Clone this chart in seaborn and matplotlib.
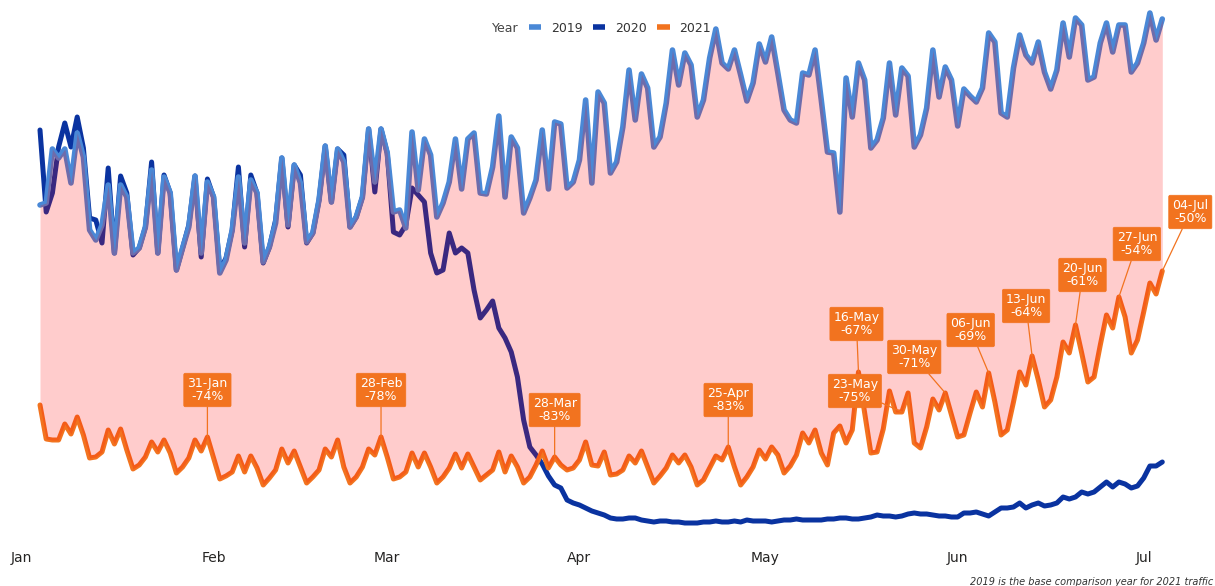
import numpy as np
import pandas as pd
import matplotlib
matplotlib.use("Agg")
import matplotlib.pyplot as plt
import matplotlib.dates as mdates
from matplotlib.lines import Line2D
import seaborn as sns

# daily traffic, aligned on 2021 weekdays (04-Jan .. 04-Jul)
START = "2021-01-04"
N_DAYS = 182

traffic_2019 = [
    320, 322, 376, 367, 376, 342, 392, 368, 295, 285, 300, 340, 272, 340,
    328, 272, 277, 298, 355, 272, 348, 332, 255, 277, 298, 349, 272, 343,
    328, 252, 265, 295, 348, 282, 345, 332, 263, 278, 302, 367, 300, 360,
    342, 283, 292, 325, 379, 323, 376, 363, 298, 308, 328, 396, 343, 396,
    372, 313, 315, 297, 393, 335, 386, 370, 308, 322, 343, 386, 336, 386,
    392, 332, 331, 358, 409, 328, 388, 377, 312, 327, 345, 395, 336, 403,
    401, 337, 343, 365, 425, 342, 433, 422, 352, 363, 398, 455, 405, 451,
    437, 378, 388, 422, 475, 440, 472, 460, 408, 425, 467, 496, 462, 456,
    475, 450, 424, 442, 481, 463, 488, 452, 415, 405, 402, 452, 450, 475,
    425, 373, 372, 313, 447, 408, 462, 445, 377, 385, 407, 462, 410, 457,
    449, 378, 390, 417, 475, 428, 458, 445, 399, 436, 429, 423, 437, 492,
    483, 412, 408, 457, 490, 470, 462, 483, 453, 436, 455, 502, 468, 507,
    500, 445, 448, 482, 502, 473, 500, 500, 453, 462, 482, 512, 485, 506,
]

traffic_2020 = [
    395, 313, 332, 378, 402, 378, 408, 377, 307, 305, 282, 357, 272, 349,
    332, 270, 277, 298, 363, 272, 350, 332, 255, 277, 300, 349, 268, 346,
    328, 255, 267, 295, 358, 278, 350, 332, 262, 278, 305, 367, 298, 360,
    350, 282, 292, 325, 379, 323, 376, 370, 298, 308, 328, 396, 333, 396,
    372, 293, 290, 300, 337, 330, 323, 272, 252, 255, 292, 272, 277, 272,
    235, 207, 215, 224, 197, 187, 173, 148, 105, 78, 70, 61, 49, 40,
    37, 25, 22, 20, 17, 14, 12, 10, 7, 6, 6, 7, 7, 5,
    4, 3, 4, 4, 3, 3, 2, 2, 2, 3, 3, 4, 3, 3,
    4, 3, 5, 4, 4, 4, 3, 4, 5, 5, 6, 5, 5, 5,
    5, 6, 6, 7, 7, 6, 6, 7, 8, 10, 9, 9, 8, 9,
    11, 12, 11, 11, 10, 9, 9, 8, 8, 12, 12, 13, 11, 9,
    13, 17, 17, 18, 22, 17, 20, 22, 19, 20, 22, 28, 26, 28,
    33, 31, 33, 38, 43, 38, 43, 41, 37, 39, 47, 59, 59, 63,
]

traffic_2021 = [
    120, 86, 85, 85, 101, 91, 108, 90, 67, 68, 73, 95, 81, 96,
    75, 56, 60, 68, 83, 73, 85, 72, 52, 58, 67, 85, 74, 88,
    67, 46, 49, 53, 69, 53, 69, 57, 40, 47, 55, 76, 62, 74,
    58, 42, 48, 55, 76, 68, 85, 58, 42, 48, 58, 76, 70, 88,
    68, 46, 48, 53, 72, 58, 72, 58, 42, 48, 57, 71, 57, 71,
    58, 45, 50, 55, 73, 53, 69, 58, 42, 48, 60, 74, 57, 68,
    60, 55, 57, 65, 83, 60, 59, 73, 50, 51, 55, 69, 62, 74,
    58, 42, 49, 57, 70, 62, 70, 58, 40, 45, 57, 69, 65, 78,
    58, 40, 48, 58, 75, 66, 78, 70, 52, 59, 70, 92, 82, 95,
    72, 60, 92, 99, 82, 95, 153, 112, 72, 73, 96, 134, 113, 113,
    132, 82, 77, 98, 126, 115, 132, 110, 88, 90, 112, 133, 118, 152,
    123, 90, 95, 123, 153, 140, 169, 145, 118, 125, 148, 183, 172, 200,
    172, 143, 148, 180, 210, 197, 228, 208, 172, 185, 213, 242, 231, 254,
]

years = ["2019", "2020", "2021"]
year_colors = {"2019": "#4A88D6", "2020": "#0A33A0", "2021": "#F2731F"}

# weekly callouts on the 2021 line
callout_days = ["31-Jan", "28-Feb", "28-Mar", "25-Apr", "16-May", "23-May",
                "30-May", "06-Jun", "13-Jun", "20-Jun", "27-Jun", "04-Jul"]
callout_pcts = ["-74%", "-78%", "-83%", "-83%", "-67%", "-75%",
                "-71%", "-69%", "-64%", "-61%", "-54%", "-50%"]
callout_offsets = [(0, 47), (0, 47), (0, 47), (0, 47), (-2, 48), (-47, 21),
                   (-31, 36), (-18, 43), (-6, 50), (7, 50), (18, 53), (28, 59)]

dates = pd.date_range(START, periods=N_DAYS, freq="D")
df = pd.concat([
    pd.DataFrame({"Date": dates, "Traffic": vals, "Year": yr})
    for yr, vals in zip(years, [traffic_2019, traffic_2020, traffic_2021])
], ignore_index=True)

sns.set_theme(style="white")
plt.rcParams["font.family"] = ["DejaVu Sans"]

W, H = 1215, 586
fig = plt.figure(figsize=(W / 100, H / 100), dpi=100)
ax = fig.add_axes([0, 46 / H, 1, 540 / H])

# draw order: 2020 under, 2021, then 2019 on top
widths = {"2019": 4.0, "2020": 3.6, "2021": 3.6}
for yr in ["2020", "2021", "2019"]:
    sns.lineplot(data=df[df["Year"] == yr], x="Date", y="Traffic",
                 color=year_colors[yr], linewidth=widths[yr], ax=ax,
                 legend=False, zorder=2)

# gap between base year and 2021, drawn over the lines
ax.fill_between(dates, traffic_2021, traffic_2019, color="red", alpha=0.2,
                linewidth=0, zorder=3)

s21 = pd.Series(traffic_2021, index=dates)
for day, pct, (dx, dy) in zip(callout_days, callout_pcts, callout_offsets):
    d = pd.to_datetime(day + "-2021", format="%d-%b-%Y")
    ax.annotate(f"{day}\n{pct}", xy=(d, s21[d]), xytext=(dx, dy),
                textcoords="offset pixels", ha="center", va="center",
                fontsize=9, color="white", linespacing=1.05, zorder=6,
                bbox=dict(boxstyle="round,pad=0.28,rounding_size=0.12",
                          fc="#F2731F", ec="#F2731F", lw=0.5),
                arrowprops=dict(arrowstyle="-", color="#F2731F", lw=0.9,
                                shrinkA=0, shrinkB=0))

start = pd.Timestamp(START)
ax.set_xlim(start - pd.Timedelta(days=6.45), start + pd.Timedelta(days=189.5))
ax.set_ylim(-15, 525)
ax.xaxis.set_major_locator(mdates.MonthLocator())
ax.xaxis.set_major_formatter(mdates.DateFormatter("%b"))
ax.tick_params(axis="x", length=3, width=0.8, color="#AAAAAA", pad=5,
               labelsize=10, labelcolor="#252423")
ax.set_yticks([])
ax.set_xlabel("")
ax.set_ylabel("")
for sp in ax.spines.values():
    sp.set_visible(False)
ax.patch.set_alpha(0)

# legend across the top
fig.text(492 / W, 1 - 28 / H, "Year", fontsize=9, color="#444444",
         ha="left", va="center")
handles = [Line2D([], [], color=year_colors[yr], lw=4, solid_capstyle="butt")
           for yr in years]
fig.legend(handles, years, ncol=3, loc="center",
           bbox_to_anchor=(620 / W, 1 - 28 / H), frameon=False, fontsize=9,
           handlelength=1.0, handletextpad=0.8, columnspacing=0.8,
           labelcolor="#333333", borderaxespad=0, borderpad=0)

fig.text(1213 / W, 1 - 577 / H,
         "2019 is the base comparison year for 2021 traffic",
         fontsize=7, style="italic", color="#333333", ha="right", va="top")

fig.savefig("out.png", dpi=100)
